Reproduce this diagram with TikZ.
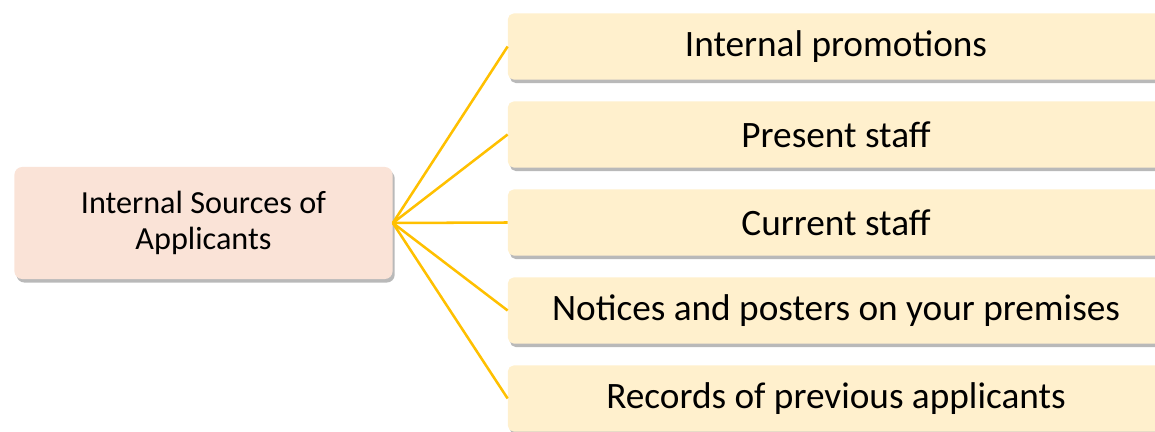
\documentclass[tikz,border=0pt]{standalone}
\usepackage{fontspec}
\setmainfont{Carlito}
\usetikzlibrary{shadows}

\definecolor{srcfill}{HTML}{FAE3D7}
\definecolor{itemfill}{HTML}{FFF0CD}
\definecolor{linkgold}{HTML}{FFC000}

\begin{document}
\begin{tikzpicture}[x=0.025cm, y=-0.025cm,
    srcbox/.style={fill=srcfill, rounded corners=5.5pt,
        minimum width=9.45cm, minimum height=2.8cm, align=center,
        font=\fontsize{22.9}{25.5}\selectfont,
        drop shadow={shadow xshift=1.5pt, shadow yshift=-2.5pt, opacity=0.55}},
    itembox/.style={fill=itemfill, rounded corners=4pt,
        minimum width=16.4cm, minimum height=1.65cm,
        font=\fontsize{26.5}{30}\selectfont,
        drop shadow={shadow xshift=1.5pt, shadow yshift=-2.5pt, opacity=0.55}},
    link/.style={draw=linkgold, line width=1.8pt}]
    %% page size
    \useasboundingbox (0, 0) rectangle (1155, 432);
    %% source box
    \node[srcbox] (src) at (203.5, 223) {Internal Sources of\\Applicants};
    %% item boxes and links
    \foreach \i/\txt in {1/Internal promotions, 2/Present staff, 3/Current staff,
        4/Notices and posters on your premises, 5/Records of previous applicants}{
        \node[itembox] (item\i) at (836, {46.5+88*(\i-1)}) {\txt};
        \draw[link] (src.east) -- (item\i.west);
    }
\end{tikzpicture}
\end{document}
